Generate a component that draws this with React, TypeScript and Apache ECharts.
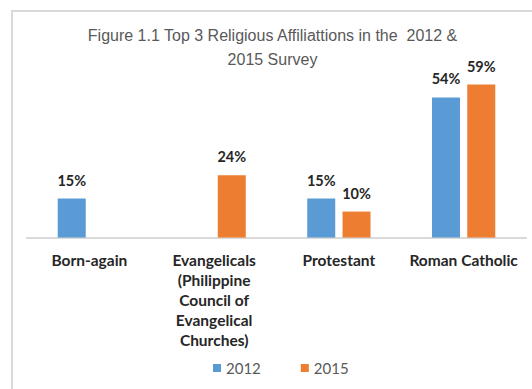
import React, { useEffect, useRef } from "react";
import * as echarts from "echarts";

const categories = [
  "Born-again",
  "Evangelicals\n(Philippine\nCouncil of\nEvangelical\nChurches)",
  "Protestant",
  "Roman Catholic",
];
const seriesNames = ["2012", "2015"];
const values2012: (number | null)[] = [15, null, 15, 54];
const values2015: (number | null)[] = [null, 24, 10, 59];
const titleText = "Figure 1.1 Top 3 Religious Affiliattions in the  2012 &\n2015 Survey";

export default function App() {
  const ref = useRef<HTMLDivElement>(null);
  useEffect(() => {
    if (!ref.current) return;
    const chart = echarts.init(ref.current, null, { renderer: "svg" });
    const labelStyle = {
      show: true,
      position: "top" as const,
      distance: 11,
      formatter: (p: any) => (p.value == null ? "" : p.value + "%"),
      fontFamily: "Lato",
      fontWeight: "bold" as const,
      fontSize: 14.5,
      color: "#262626",
    };
    chart.setOption({
      animation: false,
      backgroundColor: "#ffffff",
      graphic: [
        {
          type: "rect",
          shape: { x: 12, y: 11, width: 540, height: 400 },
          style: { fill: "none", stroke: "#D9D9D9", lineWidth: 2 },
          silent: true,
        },
        {
          type: "text",
          x: 272.5,
          y: 23,
          style: {
            text: titleText,
            textAlign: "center",
            textVerticalAlign: "top",
            fontFamily: "Liberation Sans",
            fontSize: 16,
            lineHeight: 24,
            fill: "#595959",
          },
          silent: true,
        },
      ],
      legend: {
        data: seriesNames,
        left: 213,
        top: 360,
        padding: 0,
        icon: "rect",
        itemWidth: 8,
        itemHeight: 8,
        itemGap: 40,
        textStyle: {
          fontFamily: "Lato",
          fontSize: 15,
          color: "#595959",
          lineHeight: 16,
        },
      },
      grid: {
        left: 27,
        right: 6,
        top: 56,
        bottom: 151.5,
        containLabel: false,
        outerBoundsMode: "none",
      },
      xAxis: {
        type: "category",
        data: categories,
        axisLine: { lineStyle: { color: "#D9D9D9", width: 2 } },
        axisTick: { show: false },
        axisLabel: {
          interval: 0,
          margin: 12,
          fontFamily: "Lato",
          fontWeight: "bold",
          fontSize: 15.5,
          lineHeight: 20,
          color: "#262626",
        },
      },
      yAxis: {
        type: "value",
        min: 0,
        max: 70,
        show: false,
        splitLine: { show: false },
      },
      series: [
        {
          name: seriesNames[0],
          type: "bar",
          data: values2012,
          barWidth: 28,
          barGap: "26%",
          itemStyle: { color: "#5B9BD5" },
          label: labelStyle,
        },
        {
          name: seriesNames[1],
          type: "bar",
          data: values2015,
          barWidth: 28,
          barGap: "26%",
          itemStyle: { color: "#ED7D31" },
          label: labelStyle,
        },
      ],
    });
    return () => chart.dispose();
  }, []);
  return (
    <div
      ref={ref}
      style={{ position: "fixed", left: 0, top: 0, width: 532, height: 389 }}
    />
  );
}
